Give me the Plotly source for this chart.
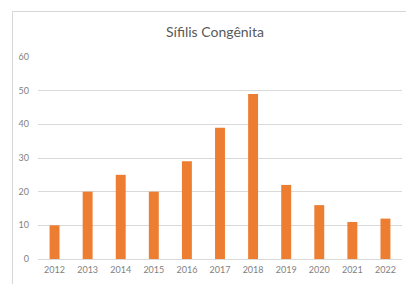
import plotly.graph_objects as go

years = ["2012", "2013", "2014", "2015", "2016", "2017", "2018", "2019", "2020", "2021", "2022"]
cases = [10, 20, 25, 20, 29, 39, 49, 22, 16, 11, 12]
y_ticks = [0, 10, 20, 30, 40, 50, 60]
title_text = "Sífilis Congênita"

W, H = 406, 284
L, R, T, B = 38, 4, 57, 25
pw, ph = W - L - R, H - T - B

fig = go.Figure(go.Bar(x=years, y=cases, marker=dict(color="#ED7D31", line=dict(width=0)), width=0.3))

fx = (12.5 - L) / pw
fy = (H - B - 11.5) / ph
fig.add_shape(type="path", xref="paper", yref="paper",
              path=f"M {fx} {-0.2} L {fx} {fy} L 1.05 {fy}",
              line=dict(color="#d6d6d6", width=1))

fig.update_layout(
    width=W, height=H,
    margin=dict(l=L, r=R, t=T, b=B),
    paper_bgcolor="white", plot_bgcolor="white",
    font=dict(family="Lato, Open Sans, sans-serif", color="#7f7f7f", size=9),
    title=dict(text=title_text, x=(215) / W, xanchor="center", y=1 - 32 / H, yanchor="middle",
               font=dict(size=14, color="#595959")),
    showlegend=False,
    bargap=0.7,
    xaxis=dict(showgrid=False, showline=False, ticks="", tickfont=dict(size=9), ticklabelstandoff=4),
    yaxis=dict(range=[0, 60], tickvals=y_ticks, showgrid=True, gridcolor="#d9d9d9", gridwidth=1,
               zeroline=True, zerolinecolor="#d9d9d9", zerolinewidth=1, showline=False,
               ticks="", tickfont=dict(size=9), ticklabelstandoff=8),
)

fig.write_html("out.html", config={"displayModeBar": False},
               post_script="document.body.style.margin='0';document.body.style.overflow='hidden';")
